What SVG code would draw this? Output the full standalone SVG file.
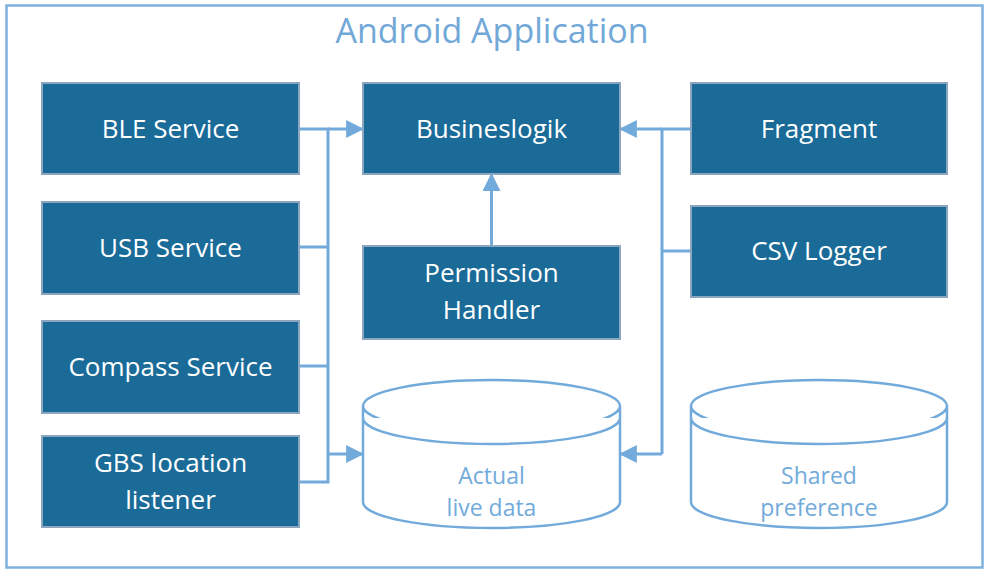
<svg xmlns="http://www.w3.org/2000/svg" width="992" height="575" viewBox="0 0 992 575">
<style>
.box{fill:#1A6B98;stroke:#8DA6BF;stroke-width:2}
.bt{fill:#FFFFFF;font-family:"Open Sans","Noto Sans",sans-serif;font-size:26px;text-anchor:middle;dominant-baseline:central}
.cyl{fill:#FFFFFF;stroke:#72ABDB;stroke-width:2.5}
.ct{fill:#72ABDB;font-family:"Open Sans","Noto Sans",sans-serif;font-size:23px;text-anchor:middle;dominant-baseline:central}
.ln{fill:none;stroke:#72ABDB;stroke-width:3}
</style>
<defs>
<marker id="ah" markerWidth="6" markerHeight="6" refX="5.3" refY="3" orient="auto" markerUnits="strokeWidth" viewBox="0 0 6 6">
<path d="M0,0 L6,3 L0,6 z" fill="#72ABDB"/>
</marker>
</defs>
<rect x="0" y="0" width="992" height="575" fill="#FFFFFF"/>
<g id="frame">
<rect x="6.5" y="5.5" width="976" height="562" fill="#FFFFFF" stroke="#7FB3DF" stroke-width="2.5"/>
<text x="492" y="30" fill="#72A8D8" font-family="Open Sans,Noto Sans,sans-serif" font-size="34" text-anchor="middle" dominant-baseline="central">Android Application</text>
</g>
<g id="connectors">
<path class="ln" d="M299,129 H328 V482 H299"/>
<path class="ln" d="M299,247 H328"/>
<path class="ln" d="M299,366 H328"/>
<path class="ln" d="M328,129 H362" marker-end="url(#ah)"/>
<path class="ln" d="M328,454 H362" marker-end="url(#ah)"/>
<path class="ln" d="M691,129 H662 V454"/>
<path class="ln" d="M691,251 H662"/>
<path class="ln" d="M662,129 H621" marker-end="url(#ah)"/>
<path class="ln" d="M662,454 H621" marker-end="url(#ah)"/>
<path class="ln" d="M491.5,246 V175" marker-end="url(#ah)"/>
</g>
<g id="ble"><rect class="box" x="42" y="83" width="257" height="91"/><text class="bt" x="170.5" y="128">BLE Service</text></g>
<g id="usb"><rect class="box" x="42" y="202" width="257" height="92"/><text class="bt" x="170.5" y="247">USB Service</text></g>
<g id="compass"><rect class="box" x="42" y="321" width="257" height="92"/><text class="bt" x="170.5" y="366">Compass Service</text></g>
<g id="gbs"><rect class="box" x="42" y="436" width="257" height="91"/><text class="bt" x="170.5" y="462">GBS location</text><text class="bt" x="170.5" y="499">listener</text></g>
<g id="businesslogik"><rect class="box" x="363" y="83" width="257" height="91"/><text class="bt" x="491.5" y="128">Busineslogik</text></g>
<g id="permission"><rect class="box" x="363" y="246" width="257" height="93"/><text class="bt" x="491.5" y="272">Permission</text><text class="bt" x="491.5" y="309">Handler</text></g>
<g id="fragment"><rect class="box" x="691" y="83" width="256" height="91"/><text class="bt" x="819" y="128">Fragment</text></g>
<g id="csv"><rect class="box" x="691" y="206" width="256" height="91"/><text class="bt" x="819" y="250">CSV Logger</text></g>
<g id="actual">
<path class="cyl" d="M363,406 V502 A128.5,26 0 0 0 620,502 V406 A128.5,26 0 0 0 363,406 A128.5,26 0 0 0 620,406"/>
<path class="cyl" fill="none" d="M363,418 A128.5,26 0 0 0 620,418"/>
<text class="ct" x="491.5" y="475">Actual</text><text class="ct" x="491.5" y="507">live data</text>
</g>
<g id="shared">
<path class="cyl" d="M691,406 V502 A128,26 0 0 0 947,502 V406 A128,26 0 0 0 691,406 A128,26 0 0 0 947,406"/>
<path class="cyl" fill="none" d="M691,418 A128,26 0 0 0 947,418"/>
<text class="ct" x="819" y="475">Shared</text><text class="ct" x="819" y="507">preference</text>
</g>
</svg>
